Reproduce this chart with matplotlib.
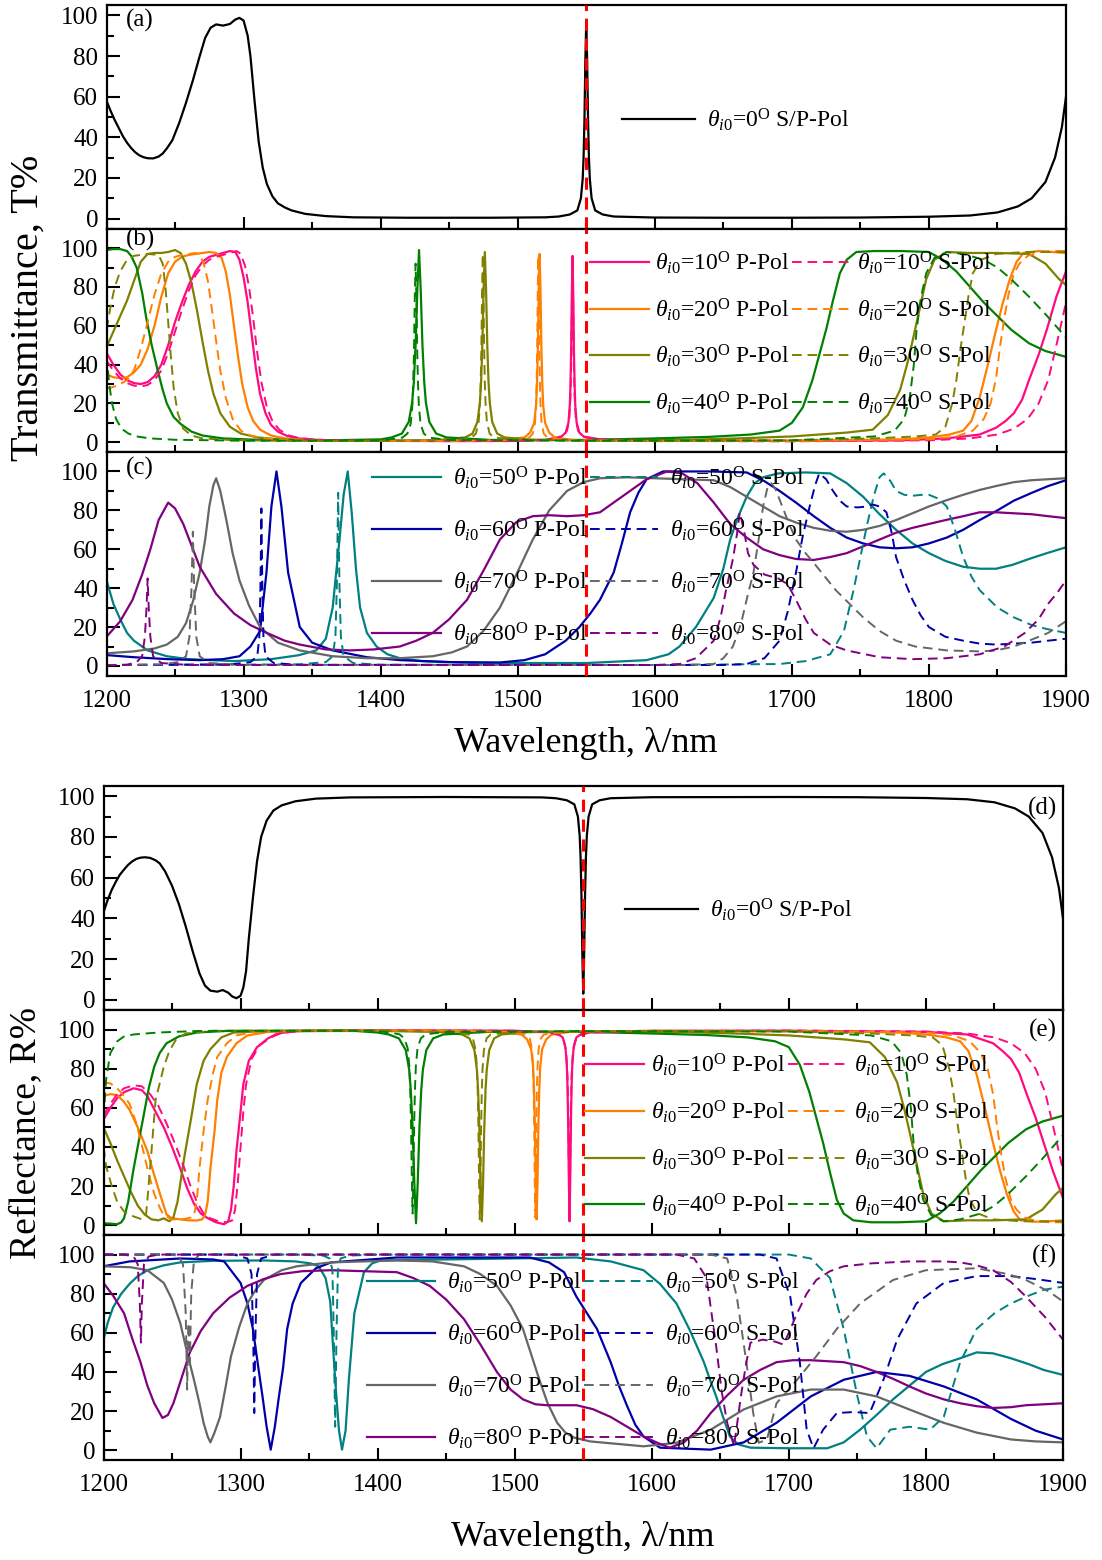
import matplotlib
matplotlib.use("Agg")
import matplotlib.pyplot as plt
from matplotlib.ticker import MultipleLocator
import numpy as np

plt.rcParams['font.family'] = ['Liberation Serif', 'DejaVu Serif']
plt.rcParams['mathtext.fontset'] = 'custom'
plt.rcParams['mathtext.rm'] = 'Liberation Serif'
plt.rcParams['mathtext.it'] = 'Liberation Serif:italic'
plt.rcParams['mathtext.bf'] = 'Liberation Serif:bold'

# ---------------- data (wavelength nm, percent) ----------------
A_T0 = [(1200,58),(1203,53),(1206,48.5),(1209,44.5),(1212,40.5),(1215,37.3),(1218,34.7),(1221,32.6),(1224,31.1),(1227,30.2),(1230,29.7),(1234,29.6),(1238,30.5),(1241,32),(1244,34.5),(1248,38.5),(1253,47),(1258,57),(1263,68),(1268,80),(1272,89),(1276,94),(1280,95.6),(1285,95),(1290,95.8),(1294,98),(1297,98.8),(1300,97.5),(1303,90),(1305,80),(1308,58),(1311,38),(1314,25),(1317,17),(1321,11),(1325,7.5),(1330,5.5),(1335,4),(1345,2.3),(1360,1.2),(1380,0.6),(1420,0.4),(1480,0.4),(1520,0.6),(1530,1.0),(1538,2.0),(1543.5,4),(1546.1,10),(1547.4,19.5),(1548.05,30),(1548.7,49),(1549.35,78),(1550,97),(1550.65,78),(1551.3,49),(1551.95,30),(1552.6,19.5),(1553.9,10),(1556.5,4),(1562,2),(1570,1.0),(1600,0.5),(1650,0.4),(1700,0.4),(1750,0.5),(1800,0.9),(1830,1.5),(1850,3),(1865,6),(1875,10),(1885,18),(1892,30),(1897,45),(1900,60)]

D_R0 = [(1200,43),(1203,49),(1206,54),(1209,58),(1212,61.5),(1215,64),(1218,66.3),(1221,68),(1224,69.2),(1227,69.8),(1230,70),(1234,69.7),(1238,68.5),(1241,67),(1245,63),(1250,56),(1255,47),(1260,36),(1265,24),(1270,13),(1274,7),(1278,4.5),(1283,4),(1287,4.8),(1291,3.5),(1294,1.6),(1297,0.8),(1300,2),(1302,6),(1304,14),(1306,30),(1309,50),(1312,68),(1315,80),(1319,88),(1324,93),(1330,95.5),(1340,97.5),(1355,98.8),(1380,99.4),(1450,99.6),(1520,99.4),(1530,99),(1538,98),(1543.5,96),(1546.1,90),(1547.4,80.5),(1548.05,70),(1548.7,51),(1549.35,22),(1550,3),(1550.65,22),(1551.3,51),(1551.95,70),(1552.6,80.5),(1553.9,90),(1556.5,96),(1562,98),(1570,99),(1600,99.5),(1700,99.6),(1750,99.5),(1800,99.1),(1830,98.5),(1850,97),(1865,94),(1875,90),(1885,82),(1892,70),(1897,55),(1900,40)]

# panel (b): transmittance, 10-40 deg
B_P10 = [(1200,46),(1205,40),(1210,35),(1215,32),(1220,30.5),(1225,30),(1230,31),(1235,34),(1240,40),(1245,50),(1250,62),(1255,72),(1260,81),(1265,88),(1270,93),(1275,95.5),(1280,96.5),(1285,97.5),(1290,98.5),(1294,98),(1297,94),(1300,85),(1303,72),(1306,55),(1309,38),(1312,25),(1316,15),(1320,9),(1325,5.5),(1332,3.2),(1340,2),(1355,1.2),(1380,0.8),(1450,0.6),(1500,0.7),(1520,1.2),(1532,3),(1535,5),(1537,10),(1538,19),(1538.5,30),(1539,48),(1539.5,77),(1540,96),(1540.5,77),(1541,48),(1541.5,30),(1542,19),(1543,10),(1545,5),(1548,3),(1560,1.5),(1600,0.8),(1700,0.7),(1780,1),(1813,2),(1837,4),(1849,7.5),(1856,11),(1862,15),(1868,22),(1873,32),(1880,45),(1886,58),(1893,75),(1900,88)]
B_S10 = [(1200,42),(1205,37),(1210,33),(1215,30.5),(1220,29.2),(1225,28.7),(1230,29.5),(1235,32),(1240,37),(1245,46),(1250,57),(1255,68),(1260,78),(1265,86),(1270,91),(1275,94),(1280,95.5),(1285,96.5),(1290,97.5),(1295,98.5),(1298,97),(1301,91),(1304,80),(1307,64),(1310,46),(1313,31),(1317,18),(1321,11),(1326,6.5),(1333,3.5),(1342,2),(1360,1.1),(1400,0.7),(1500,0.7),(1525,1.2),(1533,3),(1536,6),(1537.6,12),(1538.5,24),(1539,40),(1539.5,70),(1540,95),(1540.5,70),(1541,40),(1541.5,24),(1542.4,12),(1544,6),(1547,3),(1555,1.5),(1600,0.7),(1700,0.5),(1800,1),(1830,2),(1850,4),(1862,7),(1872,12),(1880,20),(1887,32),(1893,50),(1900,72)]
B_P20 = [(1200,35),(1205,33.5),(1210,33),(1215,33.5),(1220,36),(1225,40),(1230,48),(1235,60),(1240,75),(1245,87),(1250,93),(1255,95.5),(1260,96.5),(1265,97),(1270,97.5),(1275,98),(1280,97.5),(1284,95),(1287,88),(1290,76),(1293,60),(1296,44),(1299,30),(1303,18),(1307,11),(1312,6.5),(1320,3.5),(1330,2),(1345,1.2),(1380,0.7),(1450,0.8),(1490,1.2),(1505,2.5),(1509,5),(1512,10),(1513.4,19),(1514.05,30),(1514.7,48),(1515.35,77),(1516,97),(1516.65,77),(1517.3,48),(1517.95,30),(1518.6,19),(1520,10),(1523,5),(1527,2.5),(1540,1.2),(1600,0.7),(1700,0.8),(1780,1.5),(1800,2.5),(1815,4),(1825,6),(1831,11),(1837,23),(1843,40),(1849,58),(1854,72),(1859,84),(1864,93),(1869,97.5),(1880,98.5),(1890,98),(1900,97.5)]
B_S20 = [(1200,27.5),(1205,28.5),(1210,30),(1215,32),(1220,37),(1225,48),(1230,62),(1235,76),(1240,87),(1245,93),(1250,95.5),(1255,96.5),(1260,97),(1265,97.5),(1268,96.5),(1271,92),(1274,83),(1277,68),(1280,52),(1283,37),(1287,23),(1292,12),(1298,6),(1305,3.5),(1315,2),(1330,1.2),(1360,0.7),(1450,0.7),(1500,1.2),(1508.6,2.5),(1511,4.5),(1512.6,10),(1513.4,20),(1513.8,30),(1514.2,48),(1514.6,77),(1515,96),(1515.4,77),(1515.8,48),(1516.2,30),(1516.6,20),(1517.4,10),(1519,4.5),(1521.4,2.5),(1535,1.2),(1600,0.6),(1700,0.6),(1800,1.5),(1820,3),(1832,6),(1840,12),(1845,20),(1849,33),(1852,50),(1855,64),(1858,76),(1862,87),(1866,92),(1872,96),(1881,98),(1890,98.5),(1900,98.5)]
B_P30 = [(1200,49),(1205,57),(1210,65),(1215,73),(1220,83),(1225,93),(1230,97),(1235,97.5),(1240,97.5),(1245,98),(1250,99),(1254,97.5),(1258,92),(1262,82),(1266,68),(1270,52),(1274,37),(1278,25),(1283,15),(1290,8),(1298,4.5),(1310,2.5),(1330,1.3),(1370,0.8),(1440,1),(1461.6,2.5),(1467,4.5),(1470.6,10.5),(1472.4,20.5),(1473.3,31),(1474.2,50),(1475.1,79),(1476,98),(1476.9,79),(1477.8,50),(1478.7,31),(1479.6,20.5),(1481.4,10.5),(1485,4.5),(1490.4,2.5),(1510,1.3),(1560,0.9),(1620,1.2),(1660,2),(1700,3),(1740,5),(1759,6.5),(1770,14),(1779,27),(1784,40),(1788,52),(1793,68),(1798,84),(1804,94),(1813,98),(1830,97.5),(1850,97.5),(1873,97),(1885,92),(1895,84),(1900,81)]
B_S30 = [(1200,58),(1203,70),(1206,80),(1210,88),(1215,94),(1220,96),(1230,97),(1238,96.5),(1241,92),(1243,80),(1245,62),(1247,44),(1249,28),(1252,15),(1256,7),(1262,3.5),(1270,2),(1290,1.2),(1330,0.7),(1420,0.8),(1460,1.5),(1466.5,2.5),(1469.5,4.5),(1471.5,10.5),(1472.5,20.5),(1473,31),(1473.5,49),(1474,78),(1474.5,97),(1475,78),(1475.5,49),(1476,31),(1476.5,20.5),(1477.5,10.5),(1479.5,4.5),(1482.5,2.5),(1500,1.2),(1600,0.6),(1700,1),(1760,2),(1790,3),(1805,4),(1812,8),(1817,20),(1820,32),(1823,48),(1826,62),(1829,76),(1832,87),(1838,94),(1849,97),(1870,98),(1900,98)]
B_P40 = [(1200,99),(1205,99.5),(1210,99.5),(1215,98.5),(1218,96),(1222,90),(1226,77),(1229,64),(1233,50),(1237,38),(1241,27),(1244,20),(1249,13),(1254,9.5),(1262,5.5),(1270,3.5),(1285,2),(1310,1.3),(1360,1),(1400,1.5),(1408,2.5),(1415.5,4.5),(1420.5,10.5),(1423,20.5),(1424.2,31),(1425.5,50),(1426.8,79),(1428,99),(1429.2,79),(1430.5,50),(1431.8,31),(1433,20.5),(1435.5,10.5),(1440.5,4.5),(1448,2.5),(1480,1.2),(1550,1.2),(1600,2),(1640,2.8),(1670,4),(1691,6),(1700,10),(1708,18),(1715,32),(1720,45),(1725,58),(1730,73),(1735,87),(1740,94),(1747,98),(1760,98.5),(1780,98.5),(1800,98),(1810,94),(1820,88),(1830,80),(1840,72),(1850,65),(1860,58),(1873,51),(1885,47),(1900,44)]
B_S40 = [(1200,45),(1202,30),(1204,20),(1207,12),(1211,7),(1216,4.5),(1222,3),(1232,2),(1250,1.3),(1300,0.8),(1400,0.8),(1415.9,2.4),(1419.5,4.5),(1421.9,9.5),(1423.1,18.5),(1423.7,29),(1424.3,46),(1424.9,74),(1425.5,92),(1426.1,74),(1426.7,46),(1427.3,29),(1427.9,18.5),(1429.1,9.5),(1431.5,4.5),(1435.1,2.4),(1450,1.2),(1550,0.8),(1700,1),(1760,3),(1775,6),(1782,12),(1786,23),(1789,40),(1791,58),(1794,74),(1798,87),(1804,95),(1813,98),(1825,97),(1840,94),(1850,90),(1860,84),(1873,75),(1885,66),(1895,58),(1900,54)]

# panel (c): transmittance, 50-80 deg
C_P50 = [(1200,44),(1205,32),(1210,24),(1215,17),(1220,13),(1230,8),(1244,5),(1260,3.5),(1293,2.5),(1320,3.5),(1340,5.5),(1353,8),(1360,14),(1365,30),(1370,65),(1373,88),(1376,100),(1379,78),(1382,50),(1385,30),(1390,17),(1397,10),(1405,6),(1414,4),(1430,2.5),(1470,1.5),(1550,1.5),(1594,3),(1610,6),(1618,10),(1630,20),(1643,35),(1650,50),(1655,65),(1661,77),(1667,87),(1673,94),(1679,97),(1690,99),(1710,99.5),(1728,99),(1740,94),(1752,87),(1764,78),(1776,70),(1788,63),(1800,58),(1812,54),(1825,51),(1837,50),(1849,50),(1861,52),(1873,55),(1886,58),(1900,61)]
C_S50 = [(1200,0.5),(1340,0.8),(1360,2),(1365,5),(1367,15),(1368,40),(1369,89),(1370,40),(1371,15),(1373,5),(1380,1.5),(1400,0.6),(1600,0.5),(1691,1),(1710,2.5),(1728,6),(1738,18),(1745,39),(1750,56),(1755,73),(1760,88),(1764,97),(1767,99),(1772,95),(1776,90),(1782,88),(1788,87.5),(1795,88),(1800,88),(1807,86),(1813,82),(1819,70),(1825,56),(1831,46),(1837,39),(1850,30),(1862,25),(1875,21),(1886,19),(1900,17)]
C_P60 = [(1200,5.6),(1220,4.5),(1245,3.5),(1268,3),(1285,3.5),(1297,5),(1305,10),(1312,18),(1316.7,48),(1320.3,82),(1324,100),(1327.6,82),(1332.5,48),(1341,20),(1350,12),(1365,8),(1390,4.5),(1414,3),(1450,2),(1487,1.8),(1505,3),(1520,6),(1535,13),(1545,20),(1553,27),(1560,34),(1570,48),(1576,63),(1582,79),(1588,89),(1594,96),(1606,100),(1620,100),(1640,100),(1667,99.5),(1680,95),(1691,90),(1703,84),(1716,77),(1728,71),(1740,66),(1752,63),(1764,61),(1776,60.5),(1788,61),(1800,63),(1813,66),(1825,70),(1837,75),(1850,80),(1862,85),(1875,89),(1887,92.5),(1900,95.5)]
C_S60 = [(1200,0.5),(1290,0.8),(1305,2),(1310,5),(1311.5,15),(1312.3,40),(1313,81),(1313.7,40),(1314.5,15),(1316,5),(1322,1.5),(1340,0.6),(1650,0.5),(1667,1),(1680,4),(1691,13),(1697,28),(1703,48),(1708,67),(1713,82),(1717,93),(1720,99),(1725,96),(1730,90),(1735,85),(1740,82),(1748,81.5),(1755,82),(1759,83),(1764,82),(1769,79),(1773,68),(1776,56),(1782,44),(1788,34),(1794,26),(1800,20),(1812,15),(1825,13),(1837,11.5),(1849,11),(1862,11.5),(1875,12),(1887,13),(1900,14)]
C_P70 = [(1200,6.5),(1220,7.5),(1235,9),(1244,11),(1252,15),(1258,22),(1263,33),(1268,48),(1272,65),(1275,82),(1278,93),(1280,96.5),(1283,90),(1286,80),(1288,73),(1292,58),(1297,44),(1304,31),(1312,20),(1325,12),(1341,8),(1365,5),(1390,4),(1414,4),(1438,5),(1452,7),(1463,10),(1475,18),(1487,30),(1499,47),(1511,65),(1523,80),(1536,90),(1548,94.5),(1560,96.5),(1580,97),(1600,96.5),(1620,96),(1643,95.5),(1655,92),(1667,87),(1679,82),(1691,77),(1704,73.5),(1716,71),(1728,69.5),(1740,69),(1752,70),(1764,72),(1776,75),(1788,78.5),(1800,82),(1812,85),(1825,88),(1837,90.5),(1849,92.5),(1862,94.5),(1875,95.5),(1887,96),(1900,96.5)]
C_S70 = [(1200,0.5),(1240,0.8),(1252,2),(1258,5),(1260.5,15),(1262,40),(1263,69),(1264,40),(1265.5,15),(1268,5),(1275,1.5),(1300,0.6),(1620,0.5),(1643,1),(1650,4),(1657,10),(1663,22),(1668,37),(1672,48),(1676,66),(1679,82),(1682,91),(1685,94),(1688,91),(1693,82),(1698,73),(1703,65),(1710,58),(1716,53),(1724,46),(1732,39),(1742,32),(1752,25),(1764,18),(1776,13),(1790,10),(1813,8),(1837,7.5),(1849,8),(1862,10),(1873,13),(1887,17),(1900,23)]
C_P80 = [(1200,15),(1210,23),(1219,34),(1226,47),(1232,60),(1238,75),(1245,84),(1250,81),(1256,73),(1262,62),(1268,51),(1280,37),(1293,27),(1305,21),(1317,17),(1330,13),(1341,11),(1360,8.5),(1378,8),(1395,8.5),(1414,10),(1426,13),(1438,17),(1450,24),(1463,34),(1475,49),(1487,65),(1499,74),(1511,77),(1523,77.5),(1536,77),(1548,77.5),(1560,79),(1570,84),(1582,90),(1594,96),(1609,100),(1620,99),(1631,94),(1643,84),(1655,73),(1667,66),(1679,60),(1691,57),(1703,55),(1716,54.5),(1728,56),(1740,58),(1752,61.5),(1764,65),(1776,68.5),(1788,71),(1800,73),(1812,75),(1825,77),(1837,79),(1849,79),(1862,78.5),(1875,78),(1887,77),(1900,76)]
C_S80 = [(1200,0.3),(1215,0.6),(1222,2),(1226,5),(1228,15),(1229.2,30),(1230,45),(1230.8,30),(1232,15),(1234,5),(1240,1.5),(1260,0.5),(1600,0.5),(1618,1),(1630,4),(1643,13),(1648,25),(1652,39),(1657,55),(1660,68),(1662,79),(1665,70),(1668,58),(1672,52),(1680,47),(1690,45),(1697,42),(1703,34),(1710,24),(1716,17),(1728,11),(1740,8),(1764,4.5),(1788,3.5),(1813,4),(1837,6),(1855,10),(1870,17),(1880,24),(1887,32),(1894,38),(1900,44)]

# panel (e): reflectance, 10-40 deg
E_P10 = [(1200,54),(1205,60),(1210,65),(1215,68),(1222,70),(1228,69),(1232,66),(1238,58),(1244,50),(1250,40),(1256,29),(1261,19),(1266,11),(1271,6),(1276,3.6),(1282,1.5),(1288,0.5),(1291,2),(1293,8),(1295,20),(1297,38),(1300,58),(1302,72),(1306,84),(1312,91),(1320,95.5),(1327,98),(1340,99.2),(1400,99.6),(1500,99.4),(1530,98.5),(1535,96),(1537,91),(1538,82),(1538.5,71),(1539,52),(1539.5,23),(1540,2),(1540.5,23),(1541,52),(1541.5,71),(1542,82),(1543,91),(1545,96),(1550,98.5),(1600,99.3),(1700,99.4),(1800,98.8),(1830,97.5),(1849,93),(1856,89),(1862,85),(1868,78),(1873,68),(1880,55),(1886,42),(1893,27),(1900,14)]
E_S10 = [(1200,56),(1205,62),(1210,67),(1215,70),(1222,71.5),(1228,71),(1234,67),(1240,61),(1246,52),(1252,42),(1258,31),(1263,21),(1268,12),(1273,6),(1278,3.5),(1284,2),(1290,1.5),(1294,2.5),(1296,8),(1298,22),(1300,40),(1302,58),(1304,72),(1308,85),(1314,92),(1322,96),(1330,98.3),(1345,99.3),(1400,99.6),(1500,99.4),(1525,98.5),(1533,97),(1536,94),(1537.6,88),(1538.5,76),(1539,60),(1539.5,30),(1540,5),(1540.5,30),(1541,60),(1541.5,76),(1542.4,88),(1544,94),(1547,97),(1555,98.5),(1600,99.3),(1700,99.5),(1800,99),(1830,98),(1850,96),(1862,93),(1872,88),(1880,80),(1887,68),(1893,50),(1900,28)]
E_P20 = [(1200,66),(1205,67),(1210,66.5),(1215,63),(1219,59),(1225,50),(1232,38),(1236,28),(1239,21),(1243,12),(1246,5.5),(1250,3.5),(1256,3),(1262,2.5),(1268,2.4),(1272,3),(1274,5),(1276,12),(1278,29),(1281,48),(1283,64),(1286,78),(1290,86),(1297,93),(1305,97),(1320,98.8),(1350,99.4),(1450,99.5),(1490,98.8),(1505,97.5),(1509,95),(1512,90),(1513.4,81),(1514.05,70),(1514.7,52),(1515.35,23),(1516,3),(1516.65,23),(1517.3,52),(1517.95,70),(1518.6,81),(1520,90),(1523,95),(1527,97.5),(1540,98.8),(1600,99.3),(1700,99.2),(1780,98.5),(1800,97.5),(1815,96),(1825,94),(1831,89),(1837,77),(1843,60),(1849,42),(1854,28),(1859,16),(1864,7),(1869,2.5),(1880,1.8),(1890,2),(1900,2.5)]
E_S20 = [(1200,73),(1205,72.5),(1210,70),(1215,66),(1219,62),(1224,52),(1229,38),(1233,26),(1237,16),(1241,9),(1244,5),(1250,3),(1258,3),(1264,4),(1266,5),(1268,12),(1270,29),(1273,48),(1276,64),(1280,78),(1283,86),(1290,93),(1297,97),(1310,98.8),(1340,99.4),(1450,99.5),(1495,98.8),(1508,97.5),(1511,95.5),(1512.6,90),(1513.4,80),(1513.8,70),(1514.2,52),(1514.6,23),(1515,4),(1515.4,23),(1515.8,52),(1516.2,70),(1516.6,80),(1517.4,90),(1519,95.5),(1521.4,97.5),(1535,98.8),(1600,99.4),(1700,99.4),(1800,98.5),(1820,97),(1832,94),(1840,88),(1845,80),(1849,67),(1852,50),(1855,36),(1858,24),(1862,13),(1866,8),(1872,4),(1881,2),(1890,1.5),(1900,1.5)]
E_P30 = [(1200,50),(1205,42),(1210,33),(1215,25),(1220,17),(1225,10),(1230,5.5),(1235,3),(1240,2.5),(1244,3.5),(1248,2),(1251,4),(1254,12),(1259,35),(1264,55),(1268,72),(1273,84),(1278,90),(1286,96),(1295,98.5),(1320,99.2),(1400,99.3),(1445,98.8),(1461.6,97.5),(1467,95.5),(1470.6,89.5),(1472.4,79.5),(1473.3,69),(1474.2,50),(1475.1,21),(1476,2),(1476.9,21),(1477.8,50),(1478.7,69),(1479.6,79.5),(1481.4,89.5),(1485,95.5),(1490.4,97.5),(1510,98.7),(1560,99.1),(1620,98.8),(1660,98),(1700,97),(1740,95),(1759,93.5),(1770,86),(1779,73),(1784,60),(1788,48),(1793,32),(1798,16),(1804,6),(1813,2),(1830,2.5),(1850,2.5),(1873,3),(1885,8),(1895,16),(1900,19)]
E_S30 = [(1200,40),(1202,30),(1206,20),(1210,12),(1215,7),(1220,5),(1228,3),(1231,5),(1234,29),(1238,64),(1244,81),(1248,89),(1253,95),(1260,98),(1280,99.4),(1400,99.5),(1455,98.8),(1466.5,97.5),(1469.5,95.5),(1471.5,89.5),(1472.5,79.5),(1473,69),(1473.5,51),(1474,22),(1474.5,3),(1475,22),(1475.5,51),(1476,69),(1476.5,79.5),(1477.5,89.5),(1479.5,95.5),(1482.5,97.5),(1500,98.8),(1600,99.4),(1700,99),(1760,98),(1790,97),(1805,96),(1812,92),(1817,80),(1820,68),(1823,52),(1826,38),(1829,24),(1832,13),(1838,6),(1849,3),(1870,2),(1900,2)]
E_P40 = [(1200,1),(1205,0.8),(1210,0.5),(1213,1.5),(1215,3.6),(1218,12),(1222,29),(1226,44),(1229,55),(1233,70),(1237,81),(1241,88),(1246,93),(1255,96.5),(1268,98.5),(1290,99.3),(1380,99.5),(1400,98.5),(1408,97.5),(1415.5,95.5),(1420.5,89.5),(1423,79.5),(1424.2,69),(1425.5,50),(1426.8,21),(1428,1),(1429.2,21),(1430.5,50),(1431.8,69),(1433,79.5),(1435.5,89.5),(1440.5,95.5),(1448,97.5),(1480,98.8),(1550,98.8),(1600,98),(1640,97.2),(1670,96),(1690,94),(1700,91),(1708,82),(1715,68),(1720,55),(1725,42),(1730,27),(1735,13),(1740,6),(1747,2.5),(1760,1.5),(1780,1.5),(1800,2),(1810,6),(1820,12),(1830,20),(1840,28),(1850,35),(1860,42),(1873,49),(1885,53),(1900,56)]
E_S40 = [(1200,55),(1202,75),(1205,88),(1210,94),(1215,96.5),(1222,97.5),(1240,98.5),(1270,99.3),(1400,99.4),(1415.9,97.6),(1419.5,95.5),(1421.9,90.5),(1423.1,81.5),(1423.7,71),(1424.3,54),(1424.9,26),(1425.5,6),(1426.1,26),(1426.7,54),(1427.3,71),(1427.9,81.5),(1429.1,90.5),(1431.5,95.5),(1435.1,97.6),(1450,98.8),(1550,99.2),(1700,99),(1760,97),(1775,94),(1782,88),(1786,77),(1789,60),(1791,42),(1794,26),(1798,13),(1804,5),(1813,2),(1825,3),(1840,6),(1850,10),(1860,16),(1873,25),(1885,34),(1895,42),(1900,46)]

# panel (f): reflectance, 50-80 deg
F_P50 = [(1200,56.5),(1203,65),(1207,73),(1213,80),(1219,85),(1225,89),(1232,92),(1244,94.5),(1256,96),(1280,96.8),(1317,97),(1340,96.5),(1351,95.5),(1357,94),(1362,88),(1365.4,76),(1369,36),(1371.8,10),(1374,0.3),(1376.6,10),(1379,36),(1383,70),(1390,91),(1396,95.5),(1402,97),(1450,97.5),(1545,98.5),(1570,96.5),(1594,92),(1606,85),(1618,75),(1628,61),(1638,45),(1643,35),(1647,27.5),(1652,17),(1657,7),(1663,3),(1672,1.3),(1700,1),(1728,1),(1740,4),(1752,10.5),(1764,18),(1776,26),(1788,33),(1800,40),(1812,44),(1825,47),(1837,50),(1849,49.5),(1862,47),(1875,44),(1886,41),(1900,38.5)]
F_S50 = [(1200,100),(1340,100),(1360,99.5),(1365,98),(1367,92),(1368,60),(1369,12),(1370,60),(1371,92),(1373,98),(1380,99.5),(1400,100),(1700,100),(1716,98),(1730,88),(1740,62),(1750,27.5),(1757,7),(1764,1),(1774,10.5),(1788,12),(1803,10.5),(1813,17),(1825,45),(1837,62),(1850,70),(1862,75),(1875,79),(1886,82),(1900,83.6)]
F_P60 = [(1200,94),(1219,96.5),(1256,98),(1280,97.5),(1288,96.5),(1300,85.5),(1305,75),(1309,62),(1313,42),(1316,27.5),(1319,12),(1322,0.3),(1325,12),(1328,27.5),(1331,42),(1334,62),(1338,75),(1344,85.5),(1355,93),(1366,96),(1414,98.5),(1511,98.5),(1525,96),(1536,91),(1545,78.5),(1560,62),(1570,45),(1576,33),(1582,22.6),(1588,13),(1594,7),(1606,1.3),(1643,0.3),(1667,4),(1691,14),(1716,27.5),(1740,36),(1764,40),(1788,38),(1813,32.6),(1837,26),(1862,16),(1880,10),(1900,5.5)]
F_S60 = [(1200,100),(1295,100),(1305,98),(1308,90),(1309.3,55),(1310,19),(1310.7,55),(1312,90),(1315,98),(1325,100),(1679,100),(1691,98),(1701,78.5),(1708,45),(1713,10.5),(1718,1),(1725,10.5),(1735,19),(1747,19.5),(1759,19),(1769,36),(1779,56.5),(1793,75),(1813,85.5),(1837,89),(1862,89),(1880,87.5),(1900,85.5)]
F_P70 = [(1200,94),(1220,93.5),(1232,92),(1244,85.5),(1250,77),(1256,65),(1261,50),(1266,36),(1270,24),(1273,14),(1276,7),(1278,4),(1281,9),(1285,17),(1289,32),(1293,48),(1299,63),(1305,75),(1311,82),(1317,87),(1330,92),(1341,94),(1366,96),(1414,97),(1440,96.5),(1463,94),(1475,90),(1487,84),(1497,74),(1506,62),(1512,49),(1518,36),(1524,24),(1531,14),(1537,9),(1543,6.5),(1555,4.5),(1594,2),(1618,3.8),(1643,10.5),(1667,20.8),(1691,27.5),(1716,31),(1740,31),(1764,27.5),(1788,20.8),(1813,14),(1837,9),(1862,5.5),(1880,4.5),(1900,4)]
F_S70 = [(1200,100),(1250,100),(1255,99),(1258,95),(1260,70),(1261,31),(1262,65),(1263,45),(1264,80),(1266,97),(1270,100),(1643,100),(1655,98),(1662,78.5),(1669,45),(1674,19),(1678,3.8),(1684,5.5),(1691,24),(1706,36),(1720,48),(1735,62),(1752,75),(1776,87),(1800,92),(1837,93),(1860,90),(1873,87),(1890,81),(1900,76)]
F_P80 = [(1200,85.5),(1207,79),(1215,70),(1221,57),(1227,45),(1232,33),(1237,24),(1243,16.5),(1247,18),(1251,24),(1257,37),(1263,50),(1271,61),(1280,70),(1292,78),(1305,84),(1317,87.5),(1329,90),(1345,91.5),(1366,92),(1390,91.5),(1414,91),(1426,88),(1438,84),(1450,77),(1463,67),(1475,54),(1487,40),(1497,31),(1506,26),(1515,23.5),(1523,23),(1535,23),(1545,23),(1557,21),(1570,17),(1582,12),(1594,7),(1605,3.5),(1613,1.3),(1623,3.8),(1633,10),(1643,19),(1655,28),(1667,36),(1679,41),(1691,45),(1703,46),(1716,46),(1728,45.5),(1740,45),(1752,43),(1764,40),(1776,36.5),(1788,32.6),(1800,29),(1813,26),(1825,24),(1837,22.5),(1849,21.6),(1862,22),(1873,23),(1887,23.5),(1900,24)]
F_S80 = [(1200,100),(1215,100),(1222,99),(1225,95),(1226.5,75),(1227.3,55),(1228,75),(1229.5,95),(1233,99),(1240,100),(1618,100),(1631,98),(1640,88),(1647,53),(1651,30),(1655,14),(1660,2),(1665,27.5),(1669,45),(1672,55),(1681,56.5),(1690,55.5),(1696,54),(1700,60),(1706,70),(1713,80),(1720,87),(1730,91.5),(1740,94),(1760,95.5),(1788,96.5),(1813,96.5),(1825,96),(1837,94.5),(1849,92),(1862,86),(1873,78.5),(1887,68),(1900,56.5)]

ANGLES_LOW = [10, 20, 30, 40]
ANGLES_HIGH = [50, 60, 70, 80]
COLORS_LOW = ['#FF0a7f', '#FF7f00', '#808000', '#008000']
COLORS_HIGH = ['#008080', '#0000A8', '#666666', '#800080']
XTICKS = [1200, 1300, 1400, 1500, 1600, 1700, 1800, 1900]
YTICKS = [0, 20, 40, 60, 80, 100]
MARK_WL = 1550

# ---------------- figure ----------------
W, H = 1102, 1560
fig = plt.figure(figsize=(W / 100, H / 100), dpi=100)

def px_axes(left, top, right, bottom):
    return fig.add_axes([left / W, 1 - bottom / H, (right - left) / W, (bottom - top) / H])

TICK_FS = 18
LEG_FS = 17

def style(ax, ylim, show_x):
    ax.set_xlim(1200, 1900)
    ax.set_ylim(*ylim)
    ax.set_xticks(XTICKS)
    ax.set_yticks(YTICKS)
    ax.xaxis.set_minor_locator(MultipleLocator(50))
    ax.yaxis.set_minor_locator(MultipleLocator(10))
    ax.tick_params(axis='both', which='major', direction='in', length=9, width=1.5,
                   labelsize=TICK_FS, top=False, right=False)
    ax.tick_params(axis='both', which='minor', direction='in', length=5, width=1.5,
                   top=False, right=False)
    ax.tick_params(axis='y', which='major', pad=6)
    ax.tick_params(axis='x', which='major', pad=10, labelbottom=show_x)
    for s in ax.spines.values():
        s.set_linewidth(1.6)
    ax.axvline(MARK_WL, color='#FF0000', ls=(0, (4, 2.5)), lw=2.2, zorder=5)

def xy(pairs):
    a = np.array(pairs, dtype=float)
    return a[:, 0], a[:, 1]

def lbl(angle, pol):
    return r'$\theta_{i0}$=' + str(angle) + r'$^{\mathrm{O}}$ ' + pol

def plot_set(ax, p_list, s_list, angles, colors):
    hp, hs = [], []
    for d, ang, c in zip(p_list, angles, colors):
        x, y = xy(d)
        hp += ax.plot(x, y, color=c, lw=1.6, label=lbl(ang, 'P-Pol'))
    for d, ang, c in zip(s_list, angles, colors):
        x, y = xy(d)
        hs += ax.plot(x, y, color=c, lw=1.4, ls=(0, (5, 3)), label=lbl(ang, 'S-Pol'))
    return hp + hs

def two_col_legend(ax, handles, x, y, hlen, tpad, lspace):
    ax.legend(handles=handles, ncol=2, loc='center left', bbox_to_anchor=(x, y),
              frameon=False, fontsize=LEG_FS, handlelength=hlen, handletextpad=tpad,
              columnspacing=0.1, labelspacing=lspace, borderpad=0, borderaxespad=0)

# top group
ax_a = px_axes(106.5, 5.3, 1066, 228.7)
ax_b = px_axes(106.5, 228.7, 1066, 452)
ax_c = px_axes(106.5, 452, 1066, 675.7)
# bottom group
ax_d = px_axes(103.5, 786, 1063, 1010)
ax_e = px_axes(103.5, 1010, 1063, 1235)
ax_f = px_axes(103.5, 1235, 1063, 1460)

style(ax_a, (-5, 105), False)
style(ax_b, (-5, 110), False)
style(ax_c, (-5, 110), True)
style(ax_d, (-5, 105), False)
style(ax_e, (-5, 110), False)
style(ax_f, (-5, 110), True)

x, y = xy(A_T0)
ax_a.plot(x, y, color='black', lw=1.6, label=r'$\theta_{i0}$=0$^{\mathrm{O}}$ S/P-Pol')
ax_a.legend(loc='center left', bbox_to_anchor=(0.537, 0.487), frameon=False, fontsize=LEG_FS,
            handlelength=3.1, handletextpad=0.5, borderpad=0, borderaxespad=0)
x, y = xy(D_R0)
ax_d.plot(x, y, color='black', lw=1.6, label=r'$\theta_{i0}$=0$^{\mathrm{O}}$ S/P-Pol')
ax_d.legend(loc='center left', bbox_to_anchor=(0.5435, 0.446), frameon=False, fontsize=LEG_FS,
            handlelength=3.1, handletextpad=0.5, borderpad=0, borderaxespad=0)

h = plot_set(ax_b, [B_P10, B_P20, B_P30, B_P40], [B_S10, B_S20, B_S30, B_S40], ANGLES_LOW, COLORS_LOW)
two_col_legend(ax_b, h, 0.504, 0.534, 2.5, 0.25, 0.85)
h = plot_set(ax_c, [C_P50, C_P60, C_P70, C_P80], [C_S50, C_S60, C_S70, C_S80], ANGLES_HIGH, COLORS_HIGH)
two_col_legend(ax_c, h, 0.277, 0.536, 2.9, 0.5, 1.07)
h = plot_set(ax_e, [E_P10, E_P20, E_P30, E_P40], [E_S10, E_S20, E_S30, E_S40], ANGLES_LOW, COLORS_LOW)
two_col_legend(ax_e, h, 0.502, 0.444, 2.5, 0.3, 0.85)
h = plot_set(ax_f, [F_P50, F_P60, F_P70, F_P80], [F_S50, F_S60, F_S70, F_S80], ANGLES_HIGH, COLORS_HIGH)
two_col_legend(ax_f, h, 0.2746, 0.445, 2.9, 0.5, 1.07)

# panel letters
ax_a.text(0.02, 0.93, '(a)', transform=ax_a.transAxes, fontsize=18, va='center', ha='left')
ax_b.text(0.02, 0.95, '(b)', transform=ax_b.transAxes, fontsize=18, va='center', ha='left')
ax_c.text(0.02, 0.928, '(c)', transform=ax_c.transAxes, fontsize=18, va='center', ha='left')
ax_d.text(0.994, 0.90, '(d)', transform=ax_d.transAxes, fontsize=18, va='center', ha='right')
ax_e.text(0.994, 0.91, '(e)', transform=ax_e.transAxes, fontsize=18, va='center', ha='right')
ax_f.text(0.994, 0.907, '(f)', transform=ax_f.transAxes, fontsize=18, va='center', ha='right')

# axis titles
fig.text(586 / W, 1 - 743 / H, 'Wavelength, λ/nm', ha='center', va='center', fontsize=26)
fig.text(583 / W, 1 - 1537 / H, 'Wavelength, λ/nm', ha='center', va='center', fontsize=26)
fig.text(28 / W, 1 - 308 / H, 'Transmittance, T%', ha='center', va='center', rotation=90, fontsize=29)
fig.text(26 / W, 1 - 1133 / H, 'Reflectance, R%', ha='center', va='center', rotation=90, fontsize=27)

fig.savefig('out.png', dpi=100)
